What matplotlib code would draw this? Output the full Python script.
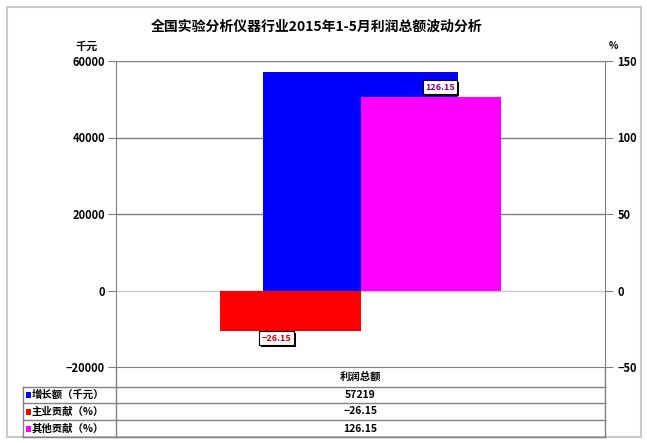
import matplotlib
matplotlib.use("Agg")
import matplotlib.pyplot as plt
from matplotlib.patches import Rectangle
from matplotlib.lines import Line2D
import matplotlib.patheffects as pe

plt.rcParams['font.family'] = ['Noto Sans CJK SC', 'DejaVu Sans']
plt.rcParams['font.weight'] = 'bold'
plt.rcParams['axes.unicode_minus'] = True

title = "全国实验分析仪器行业2015年1-5月利润总额波动分析"
category = "利润总额"
series_names = ["增长额（千元）", "主业贡献（%）", "其他贡献（%）"]
series_values = [57219, -26.15, 126.15]
series_text = ["57219", "\u221226.15", "126.15"]
series_colors = ["#0000ff", "#ff0000", "#ff00ff"]
label_colors = [None, "#cc0000", "#800080"]

left_ticks = [-20000, 0, 20000, 40000, 60000]
right_ticks = [-50, 0, 50, 100, 150]

W, H = 647, 443
fig = plt.figure(figsize=(W / 100, H / 100), dpi=100)
fig.patch.set_facecolor("white")


def fx(px):
    return px / W


def fy(py):
    return 1 - py / H


# plot area in pixel terms
L, R, T, B = 116, 605, 61, 367
ax = fig.add_axes([fx(L), fy(B), fx(R) - fx(L), fy(T) - fy(B)])
ax2 = ax.twinx()

ax.set_xlim(-0.5, 0.5)
ax.set_ylim(left_ticks[0], left_ticks[-1])
ax2.set_ylim(right_ticks[0], right_ticks[-1])

# gridlines on the primary axis
for t in left_ticks[1:]:
    ax.axhline(t, color="#c8c8c8" if t == 0 else "#808080", lw=1, zorder=0.5)

# primary series (thousand yuan)
w1 = 0.40
ax.bar([0], [series_values[0]], width=w1, color=series_colors[0], zorder=2)

# secondary series (percent)
w2 = 0.287
ax2.bar([-w2 / 2], [series_values[1]], width=w2, color=series_colors[1], zorder=2)
ax2.bar([w2 / 2], [series_values[2]], width=w2, color=series_colors[2], zorder=2)

for a in (ax, ax2):
    for s in a.spines.values():
        s.set_visible(False)
    a.set_xticks([])
    a.patch.set_visible(False)

ax.spines['left'].set_visible(True)
ax.spines['left'].set_color("#808080")
ax2.spines['right'].set_visible(True)
ax2.spines['right'].set_color("#808080")
ax.spines['bottom'].set_visible(True)
ax.spines['bottom'].set_color("#808080")

tick_font = dict(fontsize=8, fontweight='bold')
ax.set_yticks(left_ticks)
ax.set_yticklabels([f"{t}".replace("-", "\u2212") for t in left_ticks], **tick_font)
ax2.set_yticks(right_ticks)
ax2.set_yticklabels([f"{t}".replace("-", "\u2212") for t in right_ticks], **tick_font)
ax.tick_params(axis='y', length=6, color="#808080", pad=2)
ax2.tick_params(axis='y', length=6, color="#808080", pad=3)

# data labels for the percent series, boxed with a drop shadow
bbox = dict(boxstyle="square,pad=0.25", fc="white", ec="black", lw=0.8)
shadow = [pe.SimplePatchShadow(offset=(1.5, -1.5), shadow_rgbFace="black",
                               alpha=1.0), pe.Normal()]
lab_neg = ax2.annotate(series_text[1], xy=(-w2 / 2, series_values[1]),
                       xytext=(-10, -5.5), textcoords="offset points",
                       ha="center", va="center", fontsize=6.5,
                       fontweight='bold', color=label_colors[1], bbox=bbox,
                       zorder=5)
lab_pos = ax2.annotate(series_text[2], xy=(w2 / 2, series_values[2]),
                       xytext=(6.5, 7.5), textcoords="offset points",
                       ha="center", va="center", fontsize=6.5,
                       fontweight='bold', color=label_colors[2], bbox=bbox,
                       zorder=5)
for lab in (lab_neg, lab_pos):
    lab.get_bbox_patch().set_path_effects(shadow)

# title and axis units
fig.text(fx(317), fy(27), title, ha="center", va="center", fontsize=10,
         fontweight='bold')
fig.text(fx(87), fy(46), "千元", ha="center", va="center", fontsize=8,
         fontweight='bold')
fig.text(fx(613), fy(46), "%", ha="center", va="center", fontsize=7,
         fontweight='bold')

# data table under the chart
line_c = "#808080"
TL = 23
rows_y = [367, 387, 403, 420, 437]


def hline(x0, x1, y):
    fig.add_artist(Line2D([fx(x0), fx(x1)], [fy(y), fy(y)], color=line_c, lw=1))


def vline(x, y0, y1):
    fig.add_artist(Line2D([fx(x), fx(x)], [fy(y0), fy(y1)], color=line_c, lw=1))


for y in rows_y[1:]:
    hline(TL, R, y)
vline(TL, rows_y[1], rows_y[-1])
vline(L, rows_y[0], rows_y[-1])
vline(R, rows_y[0], rows_y[-1])

cx = (L + R) / 2
fig.text(fx(cx), fy((rows_y[0] + rows_y[1]) / 2), category, ha="center",
         va="center", fontsize=7.5, fontweight='bold')
for i, (name, txt, col) in enumerate(zip(series_names, series_text, series_colors)):
    yc = (rows_y[i + 1] + rows_y[i + 2]) / 2
    fig.add_artist(Rectangle((fx(26), fy(yc + 3)), fx(5), fy(0) - fy(6),
                             fc=col, ec="none"))
    fig.text(fx(32), fy(yc), name, ha="left", va="center", fontsize=7.5,
             fontweight='bold')
    fig.text(fx(cx), fy(yc), txt, ha="center", va="center", fontsize=7.5,
             fontweight='bold')

# outer frame
fig.add_artist(Rectangle((fx(7), fy(437)), fx(641) - fx(7), fy(7) - fy(437),
                         fill=False, ec="#c8c8c8", lw=1.5))

fig.savefig("out.png", dpi=100)
